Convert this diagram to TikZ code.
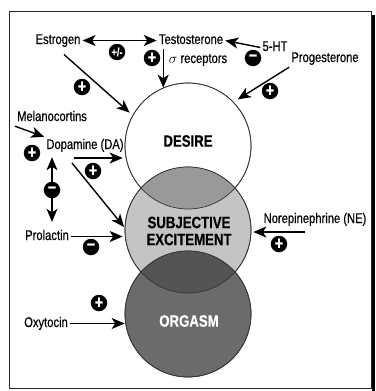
\documentclass[tikz,border=0pt]{standalone}
\usepackage{fontspec}
\setmainfont{Liberation Sans}[FakeStretch=0.8, FakeBold=0.5]
\usetikzlibrary{arrows.meta}
\usetikzlibrary{positioning}
\definecolor{segray}{gray}{0.77}
\definecolor{ovlgray}{gray}{0.6}
\definecolor{orggray}{gray}{0.42}
\definecolor{ovltwogray}{gray}{0.33}

\begin{document}
\begin{tikzpicture}[x=1pt,y=-1pt,
  lbl/.style={font=\fontsize{14}{16}\selectfont, inner sep=2pt, text height=10pt, text depth=3pt},
  big/.style={font=\bfseries\fontsize{16.5}{17}\selectfont, align=center, inner sep=0pt},
  ring/.style={circle, draw=black!80, line width=0.7pt, minimum size=126pt, inner sep=0pt},
  arr/.style={-{Stealth[length=13pt,width=11pt,inset=3.5pt]}, line width=1.4pt},
  darr/.style={{Stealth[length=13pt,width=11pt,inset=3.5pt]}-{Stealth[length=13pt,width=11pt,inset=3.5pt]}, line width=1.4pt},
  signbub/.style={circle, fill=black, text=white, inner sep=0pt, minimum size=16.5pt, font=\bfseries\fontsize{18}{18}\selectfont}]
\useasboundingbox (0,0) rectangle (375,391);

% frame
\draw[line width=1pt, black!85] (9.5,11) rectangle (371.5,388.5);
\fill[black] (372,15) rectangle (375,391);

% circles
\node[ring, fill=white] (desire) at (188,146) {};
\node[ring, fill=segray] (se) at (188,230) {};
\begin{scope}
\clip (188,146) circle[radius=63pt];
\fill[ovlgray] (188,230) circle[radius=63pt];
\end{scope}
\node[ring, fill=orggray] (org) at (188,314) {};
\begin{scope}
\clip (188,230) circle[radius=63pt];
\fill[ovltwogray] (188,314) circle[radius=63pt];
\end{scope}
\draw[black!80, line width=0.7pt] (desire.center) circle[radius=63pt];
\draw[black!80, line width=0.7pt] (se.center) circle[radius=63pt];
\draw[black!80, line width=0.7pt] (org.center) circle[radius=63pt];

\node[big] (desirelbl) at (188,141) {DESIRE};
\node[big] (selbl) at (189,231) {SUBJECTIVE\\EXCITEMENT};
\node[big, text=white] (orglbl) at (189,321) {ORGASM};

% labels
\node[lbl] (estr) at (58,40.5) {Estrogen};
\node[lbl] (test) at (191,40.5) {Testosterone};
\node[lbl] (sigr) at (198,59.5) {$\sigma$ receptors};
\node[lbl] (ht) at (275,47.5) {5-HT};
\node[lbl] (prog) at (325,58.5) {Progesterone};
\node[lbl] (mel) at (52,117.5) {Melanocortins};
\node[lbl] (da) at (85,145.5) {Dopamine (DA)};
\node[lbl] (prl) at (47,236.5) {Prolactin};
\node[lbl] (ne) at (315,219.5) {Norepinephrine (NE)};
\node[lbl] (oxy) at (46,323.5) {Oxytocin};

\coordinate (dah) at (74,158);
\coordinate (dad) at (72,163);
\coordinate (neh) at (305,232);

% arrows
\draw[darr] (estr.east) -- (test.west);
\draw[arr] (test.south -| desire.113) -- (desire.113);
\draw[arr] (ht.west) -- (test.east);
\draw[arr, shorten >=5pt] (prog.south west) -- (desire.44);
\draw[arr, shorten <=8pt, shorten >=4pt] (estr.south) -- (desire.151);
\draw[arr] (mel.south west) -- (da.north west);
\draw[arr, shorten >=2pt] (dah) -- (dah -| desire.west);
\draw[arr, shorten >=1pt] (dad) -- (se.178);
\draw[darr, shorten <=6pt, shorten >=3pt] ([xshift=5pt]prl.north) -- ([xshift=5pt]prl.north |- da.south);
\draw[arr, shorten >=2pt] (prl.east) -- (prl.east -| se.west);
\draw[arr, shorten >=2pt] (neh) -- (neh -| se.east);
\draw[arr] (oxy.east) -- (oxy.east -| org.west);

% signs
\node[signbub, font=\bfseries\fontsize{11.5}{11.5}\selectfont] (spm) at (117,52) {+/-};
\node[signbub] (s1) at (152,58) {+};
\node[signbub] (s2) at (253,58) {−};
\node[signbub] (s3) at (270,91) {+};
\node[signbub] (s4) at (82,87) {+};
\node[signbub] (s5) at (32,153) {+};
\node[signbub] (s6) at (93,171) {+};
\node[signbub] (s7) at (52,190) {−};
\node[signbub] (s8) at (91,247) {−};
\node[signbub] (s9) at (279,244) {+};
\node[signbub] (s10) at (99,303) {+};

\end{tikzpicture}
\end{document}
